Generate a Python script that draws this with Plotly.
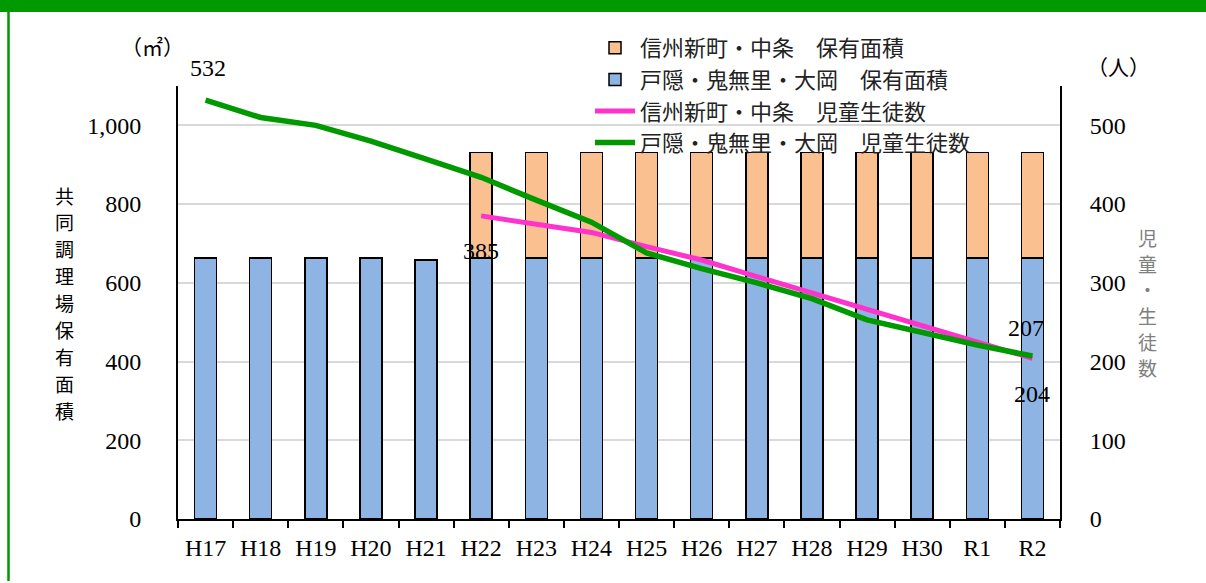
import plotly.graph_objects as go

# 年度
years = ["H17", "H18", "H19", "H20", "H21", "H22", "H23", "H24",
         "H25", "H26", "H27", "H28", "H29", "H30", "R1", "R2"]

# 共同調理場保有面積（㎡）
area_togakushi = [663, 663, 663, 663, 658, 663, 663, 663,
                  663, 663, 663, 663, 663, 663, 663, 663]
area_shinshu = [None, None, None, None, None, 268, 268, 268,
                268, 268, 268, 268, 268, 268, 268, 268]

# 児童生徒数（人）
pupils_togakushi = [532, 510, 500, 480, 457, 434, 405, 377,
                    338, 318, 300, 280, 253, 237, 221, 207]
pupils_shinshu = [None, None, None, None, None, 385, 375, 364,
                  346, 329, 308, 287, 266, 246, 225, 204]

LEFT_TITLE = "共同調理場保有面積"
RIGHT_TITLE = "児童・生徒数"

SERIF = "Liberation Serif, Times New Roman, serif"
JP = "Noto Sans CJK JP"

# plot area in pixels (left, right, top, bottom)
L, R, T, B = 178, 1060, 86, 519
W, H = 1206, 583


def px(x):
    return (x - L) / (R - L)


def py(y):
    return (B - y) / (B - T)


fig = go.Figure()

fig.add_trace(go.Bar(
    x=years, y=area_togakushi, name="戸隠・鬼無里・大岡　保有面積",
    marker=dict(color="#8EB4E3", line=dict(color="black", width=1.5)),
    legendrank=2,
))
fig.add_trace(go.Bar(
    x=years, y=area_shinshu, name="信州新町・中条　保有面積",
    marker=dict(color="#FAC090", line=dict(color="black", width=1.5)),
    legendrank=1,
))
fig.add_trace(go.Scatter(
    x=years, y=pupils_shinshu, name="信州新町・中条　児童生徒数",
    mode="lines", line=dict(color="#FF33CC", width=5), yaxis="y2",
    legendrank=3,
))
fig.add_trace(go.Scatter(
    x=years, y=pupils_togakushi, name="戸隠・鬼無里・大岡　児童生徒数",
    mode="lines", line=dict(color="#009900", width=5.5), yaxis="y2",
    legendrank=4,
))

annotations = [
    # data labels
    dict(x=years[0], y=pupils_togakushi[0], xref="x", yref="y2",
         text=str(pupils_togakushi[0]), showarrow=False, yshift=32, xshift=2),
    dict(x=years[5], y=pupils_shinshu[5], xref="x", yref="y2",
         text=str(pupils_shinshu[5]), showarrow=False, yshift=-35),
    dict(x=years[-1], y=pupils_togakushi[-1], xref="x", yref="y2",
         text=str(pupils_togakushi[-1]), showarrow=False, yshift=28, xshift=-6),
    dict(x=years[-1], y=pupils_shinshu[-1], xref="x", yref="y2",
         text=str(pupils_shinshu[-1]), showarrow=False, yshift=-36),
]
for a in annotations:
    a["font"] = dict(family=SERIF, size=24, color="black")

# units
annotations += [
    dict(x=px(152), y=py(46), xref="paper", yref="paper", text="（㎡）",
         showarrow=False, xanchor="center", yanchor="middle",
         font=dict(family=JP, size=21, color="black")),
    dict(x=px(1118), y=py(66), xref="paper", yref="paper", text="（人）",
         showarrow=False, xanchor="center", yanchor="middle",
         font=dict(family=JP, size=21, color="black")),
]

# vertical axis titles, one character per line
for i, ch in enumerate(LEFT_TITLE):
    annotations.append(dict(
        x=px(65), y=py(195 + i * 26.9), xref="paper", yref="paper",
        text=ch, showarrow=False, xanchor="center", yanchor="middle",
        font=dict(family=JP, size=19, color="black")))
for i, ch in enumerate(RIGHT_TITLE):
    annotations.append(dict(
        x=px(1147), y=py(237 + i * 26.2), xref="paper", yref="paper",
        text=ch, showarrow=False, xanchor="center", yanchor="middle",
        font=dict(family=JP, size=19, color="#7F7F7F")))

shapes = [
    # green header band
    dict(type="rect", xref="paper", yref="paper",
         x0=px(0), x1=px(W), y0=py(12), y1=py(0),
         fillcolor="#009900", line=dict(width=0), layer="above"),
    # green frame on the left
    dict(type="line", xref="paper", yref="paper",
         x0=px(8.5), x1=px(8.5), y0=py(12), y1=py(581),
         line=dict(color="#009900", width=2.5)),
]

fig.update_layout(
    width=W, height=H,
    margin=dict(l=L, r=W - R, t=T, b=H - B),
    paper_bgcolor="white", plot_bgcolor="white",
    barmode="stack", bargap=0.6,
    showlegend=True,
    legend=dict(x=px(590), y=py(27), xanchor="left", yanchor="top",
                traceorder="normal",
                font=dict(family=JP, size=22, color="#222"),
                bgcolor="rgba(0,0,0,0)", tracegroupgap=0,
                itemwidth=40),
    xaxis=dict(
        showline=True, linecolor="black", linewidth=2,
        ticks="outside", tickson="boundaries", ticklen=7,
        tickcolor="black", tickwidth=1.5,
        tickfont=dict(family=SERIF, size=24, color="black"),
        ticklabelstandoff=6,
        showgrid=False, mirror=False,
    ),
    yaxis=dict(
        range=[0, 1100], dtick=200, tickformat=",",
        showline=True, linecolor="black", linewidth=2,
        showgrid=True, gridcolor="#D9D9D9", gridwidth=1.5,
        tickfont=dict(family=SERIF, size=24, color="black"),
        ticks="", ticklabelstandoff=30, zeroline=False,
    ),
    yaxis2=dict(
        range=[0, 550], dtick=100, overlaying="y", side="right",
        showline=True, linecolor="black", linewidth=2,
        showgrid=False, zeroline=False,
        tickfont=dict(family=SERIF, size=24, color="black"),
        ticks="", ticklabelstandoff=23,
    ),
    annotations=annotations,
    shapes=shapes,
)

fig.write_html("out.html")
